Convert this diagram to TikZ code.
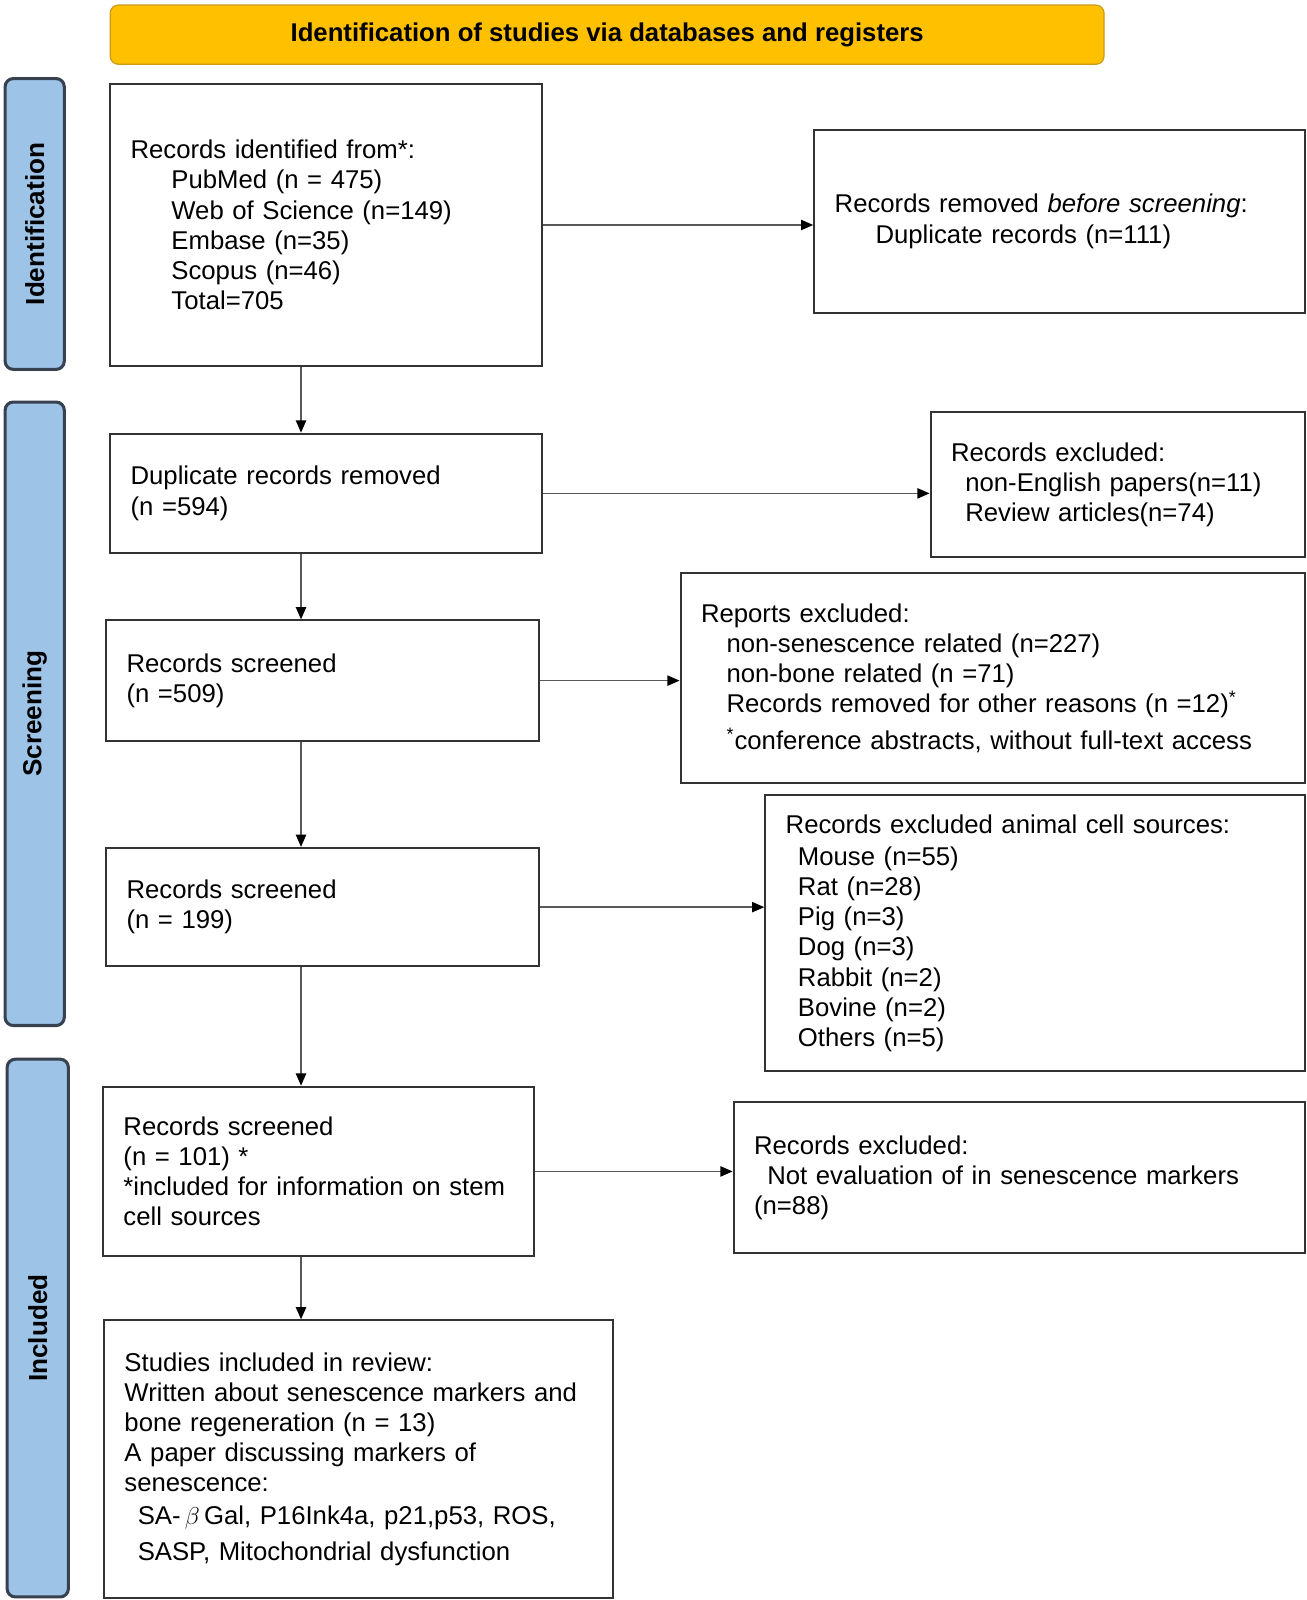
\documentclass[tikz,border=0pt]{standalone}
\usepackage{fontspec}
\setmainfont{Liberation Sans}
\usepackage{amsmath}
\usepackage{xcolor}
\usetikzlibrary{arrows.meta}
\definecolor{headfill}{RGB}{255,192,0}
\definecolor{headline}{RGB}{205,155,20}
\definecolor{barfill}{RGB}{157,195,230}
\definecolor{barline}{RGB}{55,65,80}

\begin{document}
\begin{tikzpicture}[x=0.5pt,y=-0.5pt,
		recbox/.style={draw=black!80,line width=1pt,fill=white,anchor=north west,align=left,inner xsep=10pt,inner ysep=0pt,font=\fontsize{12.6}{14.8}\selectfont},
		sidebar/.style={draw=barline,line width=1.5pt,fill=barfill,rounded corners=4pt,rotate=90,minimum height=29pt,font=\bfseries\fontsize{12.8}{14.8}\selectfont},
		link/.style={draw=black!65,line width=0.8pt,-{Triangle[length=6pt,width=5pt,color=black]}}]
		\useasboundingbox (0,0) rectangle (1280,1568);
		\node[draw=headline,line width=0.6pt,fill=headfill,rounded corners=4pt,minimum width=487pt,minimum height=29pt,font=\bfseries\fontsize{12.6}{14.8}\selectfont] (head) at (595,34) {Identification of studies via databases and registers};
		\node[sidebar,minimum width=142.5pt] (idbar) at (34,219.5) {Identification};
		\node[sidebar,minimum width=305.5pt] (scrbar) at (34,699.5) {Screening};
		\node[sidebar,minimum width=263.5pt,minimum height=30pt] (incbar) at (37,1301.5) {Included};
		\node[recbox,text width=191.5pt,minimum height=138.5pt] (ident) at (107,81) {Records identified from*:\\
			\hspace*{20pt}PubMed (n = 475)\\
			\hspace*{20pt}Web of Science (n=149)\\
			\hspace*{20pt}Embase (n=35)\\
			\hspace*{20pt}Scopus (n=46)\\
			\hspace*{20pt}Total=705};
		\node[recbox,text width=220.5pt,minimum height=90pt] (removed) at (797,126) {Records removed \textit{before screening}:\\
			\hspace*{20pt}Duplicate records (n=111)};
		\node[recbox,text width=191.5pt,minimum height=58.5pt] (dupl) at (107,424) {Duplicate records removed\\ (n =594)};
		\node[recbox,text width=163.5pt,minimum height=71pt] (langexcl) at (911,403) {Records excluded:\\
			\hspace*{7pt}non-English papers(n=11)\\
			\hspace*{7pt}Review articles(n=74)};
		\node[recbox,text width=192pt,minimum height=59pt] (screenA) at (103,607) {Records screened\\ (n =509)};
		\node[recbox,text width=286pt,minimum height=102.5pt] (reports) at (666,561) {Reports excluded:\\
			\hspace*{12.5pt}non-senescence related (n=227)\\
			\hspace*{12.5pt}non-bone related (n =71)\\
			\hspace*{12.5pt}Records removed for other reasons (n =12)\textsuperscript{*}\\[3pt]
			\hspace*{12.5pt}\textsuperscript{*}conference abstracts, without full-text access};
		\node[recbox,text width=192pt,minimum height=58pt] (screenB) at (103,830) {Records screened\\ (n = 199)};
		\node[recbox,text width=244.5pt,minimum height=135.5pt] (animal) at (749,778) {Records excluded animal cell sources:\\[1pt]
			\hspace*{6pt}Mouse (n=55)\\
			\hspace*{6pt}Rat (n=28)\\
			\hspace*{6pt}Pig (n=3)\\
			\hspace*{6pt}Dog (n=3)\\
			\hspace*{6pt}Rabbit (n=2)\\
			\hspace*{6pt}Bovine (n=2)\\
			\hspace*{6pt}Others (n=5)};
		\node[recbox,text width=191pt,minimum height=83pt] (screenC) at (100,1064) {Records screened\\
			(n = 101) *\\
			*included for information on stem\\
			cell sources};
		\node[recbox,text width=260pt,minimum height=74pt] (markexcl) at (718,1079) {Records excluded:\\
			\hspace*{6.5pt}Not evaluation of in senescence markers\\
			(n=88)};
		\node[recbox,text width=229.5pt,minimum height=136pt] (review) at (101,1293) {Studies included in review:\\
			Written about senescence markers and\\
			bone regeneration (n = 13)\\
			A paper discussing markers of\\
			senescence:\\[1pt]
			\hspace*{6.5pt}SA-\,$\beta$\,Gal, P16Ink4a, p21,p53, ROS,\\[3pt]
			\hspace*{6.5pt}SASP, Mitochondrial dysfunction};
		\coordinate (spine) at (295,0);
		\draw[link] (ident.south -| spine) -- (dupl.north -| spine);
		\draw[link] (dupl.south -| spine) -- (screenA.north -| spine);
		\draw[link] (screenA.south -| spine) -- (screenB.north -| spine);
		\draw[link] (screenB.south -| spine) -- (screenC.north -| spine);
		\draw[link] (screenC.south -| spine) -- (review.north -| spine);
		\draw[link] (ident.east) -- (ident.east -| removed.west);
		\draw[link] (dupl.east) -- (dupl.east -| langexcl.west);
		\draw[link] (screenA.east) -- (screenA.east -| reports.west);
		\draw[link] (screenB.east) -- (screenB.east -| animal.west);
		\draw[link] (screenC.east) -- (screenC.east -| markexcl.west);
	\end{tikzpicture}
\end{document}
